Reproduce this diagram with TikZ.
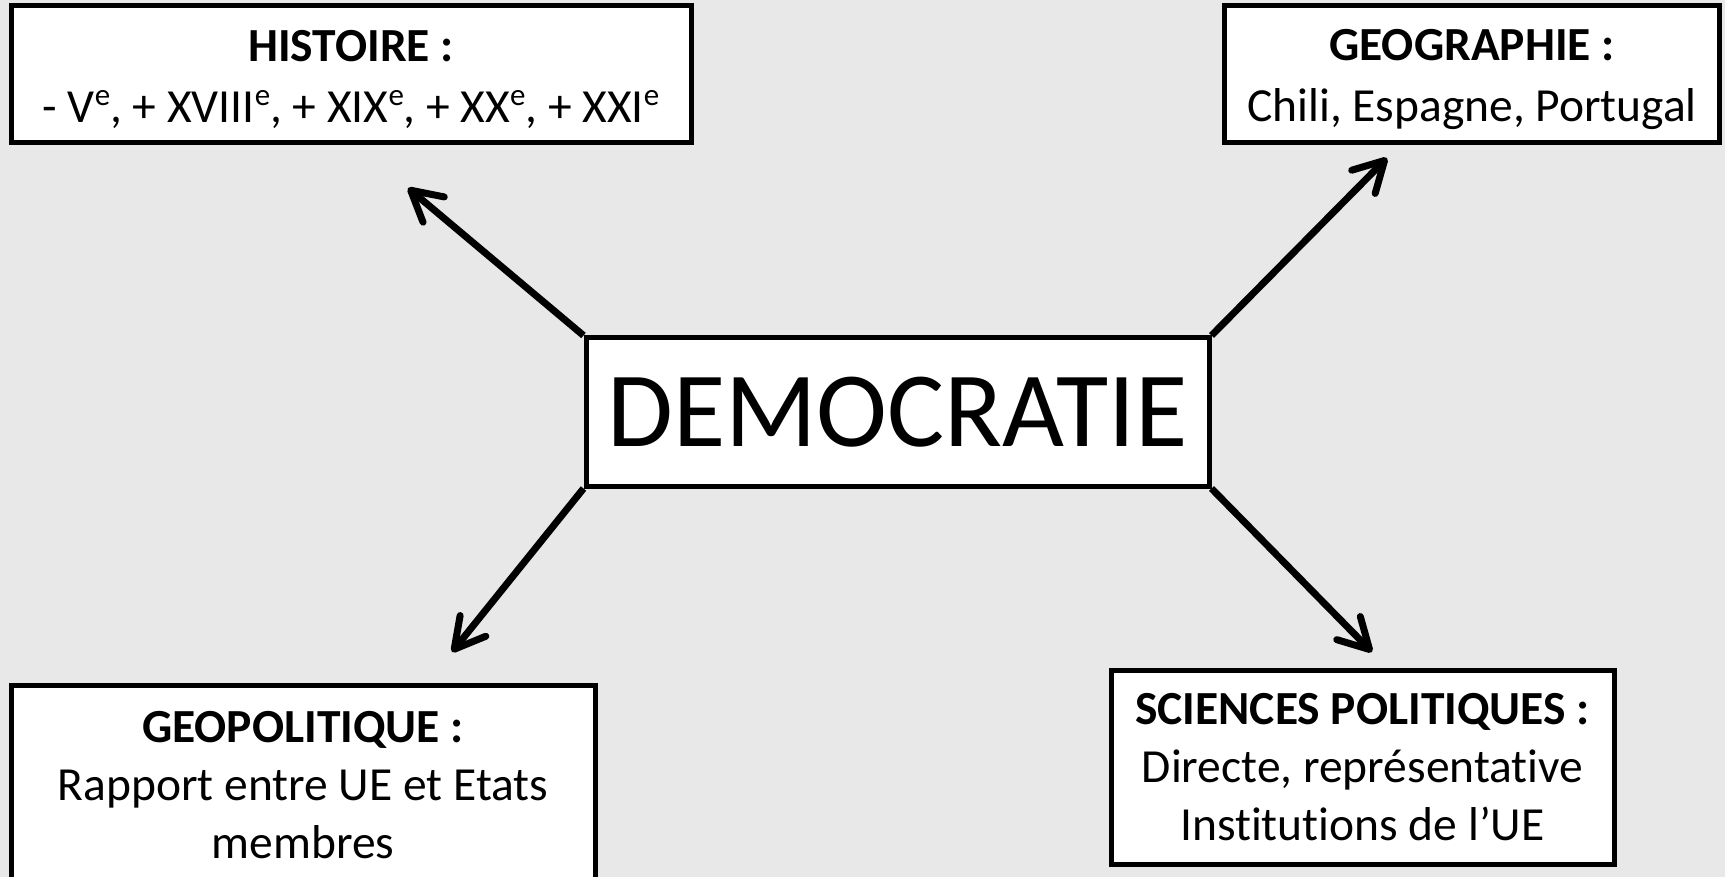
\documentclass[tikz,border=0pt]{standalone}
\usepackage{fontspec}
\setmainfont{Carlito}[Ligatures={NoCommon}]
\usetikzlibrary{arrows.meta}
\definecolor{bgcol}{RGB}{232,232,232}
\newcommand\supe{\raisebox{0.36em}{\fontsize{31}{31}\selectfont e}}
\newcommand\topstrut{\rule{0pt}{43pt}}
\tikzset{
  boxnode/.style={draw=black, line width=5pt, fill=white, rectangle, inner sep=0pt, align=center, font=\fontsize{47.5}{58}\selectfont},
  topbox/.style={boxnode, font=\fontsize{47.5}{61}\selectfont},
  link/.style={line width=7pt, -{Straight Barb[length=30pt,width=33pt,line cap=round,line join=round]}}
}
\begin{document}
\begin{tikzpicture}[x=1pt,y=-1pt]
\fill[bgcol] (0,0) rectangle (1725,877);
\useasboundingbox (0,0) rectangle (1725,877);
\clip (0,0) rectangle (1725,877);
\node[topbox, minimum width=680pt, minimum height=137pt] (hist) at (351,74)
  {\topstrut\textbf{HISTOIRE :}\\- V\supe, + XVIII\supe, + XIX\supe, + XX\supe, + XXI\supe};
\node[topbox, minimum width=495pt, minimum height=137pt] (geo) at (1472,74)
  {\topstrut\textbf{GEOGRAPHIE :}\\Chili, Espagne, Portugal};
\node[boxnode, minimum width=623pt, minimum height=148pt, font=\fontsize{107}{120}\selectfont] (demo) at (897.5,412)
  {DEMOCRATIE};
\node[boxnode, minimum width=584pt, minimum height=200pt] (geop) at (303,785)
  {\textbf{GEOPOLITIQUE :}\\Rapport entre UE et Etats\\membres};
\node[boxnode, minimum width=503pt, minimum height=194pt] (sci) at (1362.5,767)
  {\textbf{SCIENCES POLITIQUES :}\\Directe, représentative\\Institutions de l’UE};
\coordinate (hend) at (408,188);
\coordinate (gend) at (1387,158);
\coordinate (gpend) at (452,652);
\coordinate (send) at (1372,652);
\draw[link] (demo.north west) -- (hend);
\draw[link] (demo.north east) -- (gend);
\draw[link] (demo.south west) -- (gpend);
\draw[link] (demo.south east) -- (send);
\end{tikzpicture}
\end{document}
